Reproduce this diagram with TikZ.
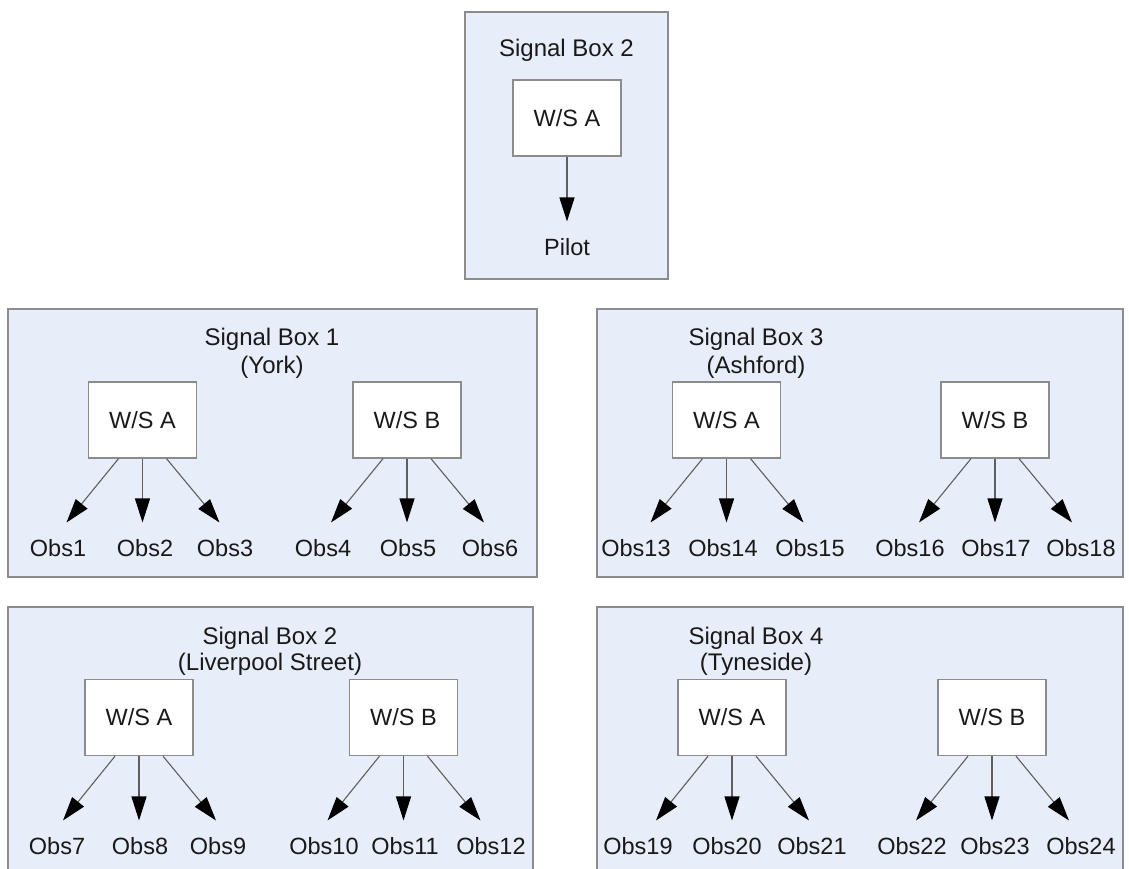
\documentclass[tikz,border=0pt]{standalone}
\usepackage{fontspec}
\setmainfont{Liberation Sans}
\usetikzlibrary{arrows.meta}
\definecolor{boxfill}{RGB}{231,237,249}
\definecolor{boxline}{RGB}{140,140,140}
\definecolor{arrline}{RGB}{95,95,95}
\definecolor{textc}{RGB}{25,25,25}
\newcommand\myfan[4]{%
  \draw[conn] ([xshift=-24pt]#1.south) -- ([xshift=-76pt]#1.south |- #2.north);
  \draw[conn] (#1.south) -- (#1.south |- #3.north);
  \draw[conn] ([xshift=24pt]#1.south) -- ([xshift=77pt]#1.south |- #4.north);}
\begin{document}
\begin{tikzpicture}[x=1pt,y=-1pt,
  txt/.style={font=\fontsize{23.5}{28}\selectfont, text=textc, inner sep=0pt},
  title/.style={txt, font=\fontsize{24}{28}\selectfont, anchor=base},
  obs/.style={txt, anchor=base, outer ysep=16.5pt},
  container/.style={draw=boxline, fill=boxfill, line width=1.4pt, inner sep=0pt},
  wsbox/.style={txt, draw=boxline, fill=white, line width=1.3pt, minimum width=108pt, minimum height=76pt},
  conn/.style={draw=arrline, line width=1.1pt, -{Triangle[length=24pt,width=15pt,color=black]}}
]
\clip (0,0) rectangle (1129,869);
\fill[white] (0,0) rectangle (1129,869);

% ---------- top box ----------
\node[container, minimum width=203pt, minimum height=267pt] (top) at (566.5,145.5) {};
\node[title] (ttop) at (566.5,57) {Signal Box 2};
\node[wsbox] (wst) at (567,118) {W/S A};
\node[obs] (pilot) at (567,255) {Pilot};
\draw[conn] (wst.south) -- (wst.south |- pilot.north);

% ---------- middle left ----------
\node[container, minimum width=529pt, minimum height=268pt] (ml) at (272.5,443) {};
\node[title] (mlt1) at (272,345) {Signal Box 1};
\node[title] (mlt2) at (272,373) {(York)};
\node[wsbox] (mla) at (142.5,420) {W/S A};
\node[wsbox] (mlb) at (407,420) {W/S B};
\node[obs] (o1) at (58,556) {Obs1};
\node[obs] (o2) at (145,556) {Obs2};
\node[obs] (o3) at (225,556) {Obs3};
\node[obs] (o4) at (323,556) {Obs4};
\node[obs] (o5) at (408,556) {Obs5};
\node[obs] (o6) at (490,556) {Obs6};
\myfan{mla}{o1}{o2}{o3}
\myfan{mlb}{o4}{o5}{o6}

% ---------- middle right ----------
\node[container, minimum width=526pt, minimum height=268pt] (mr) at (860,443) {};
\node[title] (mrt1) at (756,345) {Signal Box 3};
\node[title] (mrt2) at (756,373) {(Ashford)};
\node[wsbox] (mra) at (726.5,420) {W/S A};
\node[wsbox] (mrb) at (995,420) {W/S B};
\node[obs] (o13) at (636,556) {Obs13};
\node[obs] (o14) at (723,556) {Obs14};
\node[obs] (o15) at (810,556) {Obs15};
\node[obs] (o16) at (910,556) {Obs16};
\node[obs] (o17) at (996,556) {Obs17};
\node[obs] (o18) at (1081,556) {Obs18};
\myfan{mra}{o13}{o14}{o15}
\myfan{mrb}{o16}{o17}{o18}

% ---------- bottom left ----------
\node[container, minimum width=525pt, minimum height=293pt] (bl) at (270.5,753.5) {};
\node[title] (blt1) at (270,644) {Signal Box 2};
\node[title] (blt2) at (270,670) {(Liverpool Street)};
\node[wsbox] (bla) at (139,717.5) {W/S A};
\node[wsbox] (blb) at (403.5,717.5) {W/S B};
\node[obs] (o7) at (57,854) {Obs7};
\node[obs] (o8) at (140,854) {Obs8};
\node[obs] (o9) at (218,854) {Obs9};
\node[obs] (o10) at (324,854) {Obs10};
\node[obs] (o11) at (405,854) {Obs11};
\node[obs] (o12) at (491,854) {Obs12};
\myfan{bla}{o7}{o8}{o9}
\myfan{blb}{o10}{o11}{o12}

% ---------- bottom right ----------
\node[container, minimum width=526pt, minimum height=293pt] (br) at (860,753.5) {};
\node[title] (brt1) at (756,644) {Signal Box 4};
\node[title] (brt2) at (756,670) {(Tyneside)};
\node[wsbox] (bra) at (732,717.5) {W/S A};
\node[wsbox] (brb) at (992,717.5) {W/S B};
\node[obs] (o19) at (638,854) {Obs19};
\node[obs] (o20) at (727,854) {Obs20};
\node[obs] (o21) at (812,854) {Obs21};
\node[obs] (o22) at (912,854) {Obs22};
\node[obs] (o23) at (995,854) {Obs23};
\node[obs] (o24) at (1081,854) {Obs24};
\myfan{bra}{o19}{o20}{o21}
\myfan{brb}{o22}{o23}{o24}
\end{tikzpicture}
\end{document}
